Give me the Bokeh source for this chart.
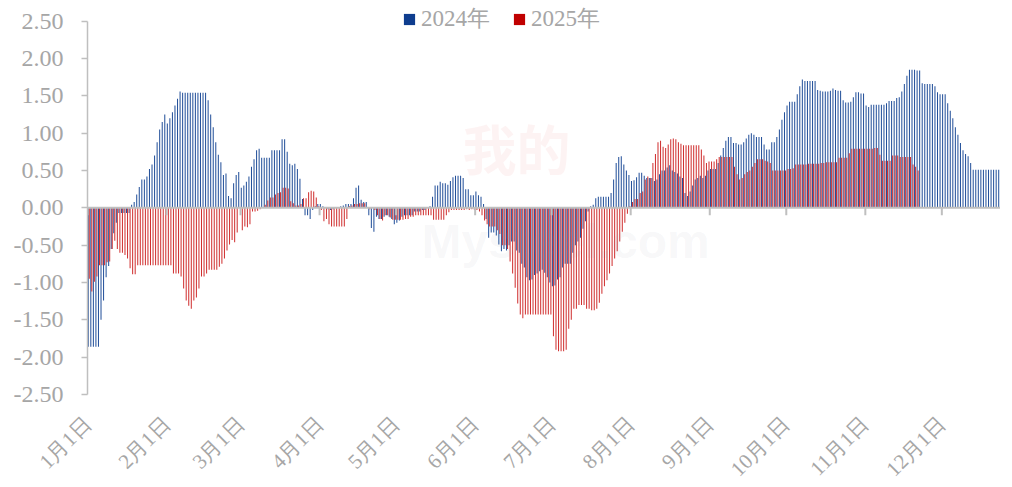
import numpy as np
from bokeh.plotting import figure
from bokeh.models import (Range1d, FixedTicker, NumeralTickFormatter, Span, Label,
                          Legend, LegendItem, ColumnDataSource)
from bokeh.embed import file_html
from bokeh.resources import INLINE

# ---------------- data ----------------
month_labels = ["1月1日", "2月1日", "3月1日", "4月1日", "5月1日", "6月1日",
                "7月1日", "8月1日", "9月1日", "10月1日", "11月1日", "12月1日"]
month_days = [31, 29, 31, 30, 31, 30, 31, 31, 30, 31, 30, 31]

# 2024 daily values, one list per month
b_jan = [-1.86, -1.86, -1.86, -1.86, -1.86, -1.50, -1.24, -0.93, -0.78, -0.55, -0.34, -0.20,
         -0.07, -0.07, -0.07, -0.07, -0.07, 0.04, 0.08, 0.18, 0.28, 0.38, 0.38, 0.42, 0.52,
         0.58, 0.70, 0.88, 1.05, 1.15, 1.25]
b_feb = [1.13, 1.20, 1.28, 1.37, 1.46, 1.56, 1.54, 1.54, 1.54, 1.54, 1.54, 1.54, 1.54, 1.54,
         1.54, 1.54, 1.44, 1.25, 1.08, 0.88, 0.71, 0.61, 0.44, 0.46, 0.16, 0.13, 0.33, 0.44, 0.48]
b_mar = [0.27, 0.30, 0.35, 0.42, 0.55, 0.65, 0.77, 0.79, 0.67, 0.67, 0.67, 0.67, 0.77, 0.77,
         0.77, 0.77, 0.92, 0.92, 0.75, 0.59, 0.57, 0.59, 0.52, 0.39, 0.12, -0.10, -0.10, -0.15,
         -0.03, 0.02, 0.05]
b_apr = [0.05, 0.02, 0.00, -0.02, -0.03, -0.02, 0.00, 0.01, 0.02, 0.03, 0.05, 0.05, 0.05,
         0.13, 0.27, 0.30, 0.11, 0.08, 0.08, -0.10, -0.27, -0.32, -0.12, -0.15, -0.15, -0.12,
         -0.10, -0.12, -0.15, -0.22]
b_may = [-0.20, -0.17, -0.12, -0.10, -0.10, -0.10, -0.10, -0.05, -0.05, -0.05, -0.03, -0.03,
         0.00, 0.02, 0.15, 0.30, 0.30, 0.35, 0.33, 0.33, 0.31, 0.36, 0.41, 0.43, 0.43, 0.43,
         0.40, 0.25, 0.25, 0.17, 0.17]
b_jun = [0.22, 0.17, 0.15, 0.05, -0.15, -0.40, -0.33, -0.33, -0.37, -0.49, -0.58, -0.55,
         -0.57, -0.50, -0.45, -0.45, -0.57, -0.60, -0.75, -0.80, -0.93, -0.97, -0.96, -0.90,
         -0.88, -0.85, -0.83, -0.87, -0.93, -1.00]
b_jul = [-1.05, -1.04, -0.96, -0.93, -0.80, -0.75, -0.75, -0.75, -0.60, -0.50, -0.45, -0.40,
         -0.28, -0.18, -0.05, 0.02, 0.04, 0.13, 0.15, 0.15, 0.15, 0.15, 0.15, 0.20, 0.38, 0.60,
         0.68, 0.69, 0.58, 0.50, 0.44]
b_aug = [0.36, 0.37, 0.41, 0.47, 0.47, 0.43, 0.40, 0.40, 0.40, 0.36, 0.38, 0.45, 0.50, 0.50,
         0.54, 0.57, 0.50, 0.48, 0.46, 0.42, 0.40, 0.20, 0.16, 0.22, 0.30, 0.38, 0.40, 0.43,
         0.40, 0.43, 0.50]
b_sep = [0.52, 0.52, 0.52, 0.60, 0.70, 0.80, 0.90, 0.95, 0.95, 0.87, 0.87, 0.85, 0.85, 0.88,
         0.93, 0.98, 1.00, 0.98, 0.95, 0.95, 0.95, 0.85, 0.78, 0.78, 0.88, 0.88, 0.95, 1.05,
         1.18, 1.28]
b_oct = [1.37, 1.42, 1.42, 1.42, 1.52, 1.63, 1.72, 1.70, 1.70, 1.70, 1.70, 1.70, 1.58, 1.57,
         1.56, 1.56, 1.56, 1.57, 1.60, 1.58, 1.57, 1.57, 1.44, 1.41, 1.41, 1.42, 1.48, 1.55,
         1.55, 1.53, 1.53]
b_nov = [1.37, 1.35, 1.38, 1.38, 1.38, 1.38, 1.38, 1.38, 1.40, 1.43, 1.43, 1.43, 1.47, 1.48,
         1.56, 1.66, 1.77, 1.85, 1.85, 1.85, 1.84, 1.84, 1.67, 1.66, 1.66, 1.66, 1.66, 1.63,
         1.55, 1.52]
b_dec = [1.52, 1.52, 1.40, 1.30, 1.20, 1.08, 0.98, 0.87, 0.77, 0.72, 0.69, 0.60, 0.51, 0.51,
         0.51, 0.51, 0.51, 0.51, 0.51, 0.51, 0.51, 0.51, 0.51, 0.34, 0.00, 0.02, 0.04]

# 2025 daily values, one list per month
r_jan = [-0.95, -1.12, -0.99, -0.92, -0.77, -0.77, -0.77, -0.73, -0.72, -0.55, -0.44, -0.55,
         -0.60, -0.60, -0.63, -0.68, -0.81, -0.89, -0.89, -0.77, -0.77, -0.77, -0.77, -0.77,
         -0.77, -0.77, -0.77, -0.77, -0.77, -0.77, -0.77]
r_feb = [-0.77, -0.77, -0.88, -0.88, -0.88, -0.92, -1.08, -1.24, -1.31, -1.35, -1.24, -1.20,
         -1.08, -0.92, -0.92, -0.88, -0.83, -0.83, -0.83, -0.83, -0.79, -0.75, -0.68, -0.57,
         -0.49, -0.43, -0.46, -0.33]
r_mar = [-0.30, -0.25, -0.26, -0.22, -0.05, -0.05, -0.04, -0.02, 0.01, 0.04, 0.10, 0.14, 0.14,
         0.18, 0.20, 0.21, 0.27, 0.27, 0.26, 0.09, 0.06, 0.03, 0.03, 0.05, 0.13, 0.13, 0.21,
         0.23, 0.22, 0.14, 0.02]
r_apr = [-0.03, -0.18, -0.15, -0.22, -0.25, -0.25, -0.25, -0.25, -0.25, -0.25, -0.15, 0.02,
         0.03, 0.05, 0.05, 0.06, 0.06, 0.06, 0.00, -0.02, 0.00, -0.03, -0.10, -0.15, -0.17,
         -0.10, -0.10, -0.13, -0.16, -0.16]
r_may = [-0.16, -0.16, -0.16, -0.15, -0.15, -0.12, -0.12, -0.10, -0.10, -0.10, -0.10, -0.10,
         -0.10, -0.10, -0.16, -0.16, -0.16, -0.16, -0.16, -0.10, -0.06, -0.03, -0.03, -0.03,
         -0.03, -0.03, -0.03, -0.02, -0.03, -0.02, -0.03]
r_jun = [-0.03, -0.05, -0.10, -0.17, -0.22, -0.25, -0.25, -0.25, -0.30, -0.35, -0.50, -0.50,
         -0.55, -0.72, -0.88, -1.07, -1.28, -1.43, -1.48, -1.43, -1.43, -1.43, -1.43, -1.43,
         -1.43, -1.43, -1.43, -1.43, -1.43, -1.43]
r_jul = [-1.72, -1.90, -1.92, -1.92, -1.92, -1.90, -1.62, -1.50, -1.35, -1.35, -1.30, -1.30,
         -1.30, -1.35, -1.35, -1.37, -1.37, -1.35, -1.27, -1.15, -1.05, -0.97, -0.88, -0.78,
         -0.68, -0.58, -0.45, -0.32, -0.20, -0.08, 0.02]
r_aug = [0.08, 0.12, 0.12, 0.20, 0.22, 0.38, 0.42, 0.40, 0.60, 0.72, 0.88, 0.90, 0.82, 0.80,
         0.85, 0.92, 0.93, 0.92, 0.88, 0.86, 0.84, 0.84, 0.84, 0.84, 0.84, 0.84, 0.84, 0.78,
         0.70, 0.60, 0.62]
r_sep = [0.62, 0.62, 0.65, 0.68, 0.68, 0.68, 0.68, 0.68, 0.68, 0.55, 0.45, 0.38, 0.40, 0.45,
         0.48, 0.50, 0.55, 0.60, 0.65, 0.65, 0.65, 0.63, 0.62, 0.60, 0.50, 0.50, 0.50, 0.50,
         0.50, 0.50]
r_oct = [0.52, 0.52, 0.53, 0.58, 0.58, 0.58, 0.58, 0.58, 0.59, 0.59, 0.59, 0.59, 0.59, 0.60,
         0.60, 0.61, 0.61, 0.61, 0.61, 0.61, 0.67, 0.67, 0.67, 0.67, 0.73, 0.79, 0.79, 0.79,
         0.79, 0.79, 0.79]
r_nov = [0.79, 0.79, 0.79, 0.80, 0.80, 0.71, 0.63, 0.63, 0.63, 0.63, 0.70, 0.70, 0.70, 0.68,
         0.68, 0.68, 0.68, 0.68, 0.58, 0.55, 0.50]

series_2024 = [b_jan, b_feb, b_mar, b_apr, b_may, b_jun, b_jul, b_aug, b_sep, b_oct, b_nov, b_dec]
series_2025 = [r_jan, r_feb, r_mar, r_apr, r_may, r_jun, r_jul, r_aug, r_sep, r_oct, r_nov]
series_names = ["2024年", "2025年"]
y_ticks = [-2.5, -2.0, -1.5, -1.0, -0.5, 0.0, 0.5, 1.0, 1.5, 2.0, 2.5]

# ---------------- helpers ----------------
starts = np.concatenate([[0], np.cumsum(month_days)[:-1]]).astype(int)


def expand(months):
    xs, ys = [], []
    for m, vals in enumerate(months):
        for i, v in enumerate(vals):
            xs.append(starts[m] + i + 0.5)
            ys.append(v)
    return np.array(xs), np.array(ys)


x24, y24 = expand(series_2024)
x25, y25 = expand(series_2025)

BLUE_KEY = "#0E3D8E"
RED_KEY = "#C00000"
BLUE_BAR = "#23509A"
RED_BAR = "#D03030"
GRAY_AX = "#BFBFBF"
GRAY_TXT = "#A6A6A6"
FONT = "Liberation Serif"

FRAME_H = 394
PX_PER_UNIT = 74.66
p = figure(frame_width=913, frame_height=FRAME_H, output_backend="svg", toolbar_location=None,
           x_range=Range1d(0, 358), y_range=Range1d(-2.5, -2.5 + FRAME_H / PX_PER_UNIT),
           min_border_left=87, min_border_right=0, min_border_top=0, min_border_bottom=70)
p.outline_line_color = None
p.background_fill_color = "white"
p.border_fill_color = "white"
p.xgrid.visible = False
p.ygrid.visible = False

# faint watermark
p.add_layout(Label(x=147, y=0.28, text="我的", text_font="Noto Sans CJK SC",
                   text_font_size="54px", text_color="#E05050", text_alpha=0.07,
                   text_font_style="bold"))
p.add_layout(Label(x=131, y=-0.80, text="Mysteel.com", text_font="Liberation Sans",
                   text_font_size="48px", text_color="#9090A0", text_alpha=0.08,
                   text_font_style="bold"))

bw = 0.4
p.vbar(x=x24 - bw / 2, top=y24, bottom=0, width=bw, fill_color=BLUE_BAR, line_color=None)
p.vbar(x=x25 + bw / 2, top=y25, bottom=0, width=bw, fill_color=RED_BAR, line_color=None)

# legend keys (renderers with no visible bar, carrying the key colours)
keysrc = ColumnDataSource(data=dict(x=np.array([np.nan]), top=np.array([np.nan])))
k24 = p.vbar(x="x", top="top", width=1, source=keysrc, fill_color=BLUE_KEY, line_color=None)
k25 = p.vbar(x="x", top="top", width=1, source=keysrc, fill_color=RED_KEY, line_color=None)

# zero line with month tick marks
p.add_layout(Span(location=0, dimension="width", line_color=GRAY_AX, line_width=2))
p.segment(x0=starts, y0=np.zeros(len(starts)), x1=starts, y1=np.full(len(starts), -0.1),
          line_color=GRAY_AX, line_width=2)

# y axis (line limited to the tick span)
yax = p.yaxis[0]
yax.bounds = (y_ticks[0], y_ticks[-1])
yax.ticker = FixedTicker(ticks=y_ticks)
yax.formatter = NumeralTickFormatter(format="0.00")
yax.axis_line_color = GRAY_AX
yax.axis_line_width = 1.5
yax.major_tick_line_color = GRAY_AX
yax.major_tick_line_width = 1.5
yax.major_tick_out = 6
yax.major_tick_in = 0
yax.minor_tick_line_color = None
yax.major_label_text_color = GRAY_TXT
yax.major_label_text_font = FONT
yax.major_label_text_font_size = "24px"
yax.major_label_standoff = 18

# x axis
xax = p.xaxis[0]
xax.ticker = FixedTicker(ticks=[int(s) for s in starts])
xax.major_label_overrides = {int(s): lab for s, lab in zip(starts, month_labels)}
xax.major_label_orientation = np.pi / 4
xax.axis_line_color = None
xax.major_tick_line_color = None
xax.minor_tick_line_color = None
xax.major_tick_out = 0
xax.major_label_text_color = GRAY_TXT
xax.major_label_text_font = FONT
xax.major_label_text_font_size = "21px"
xax.major_label_standoff = 26

# legend
lg = Legend(items=[LegendItem(label=series_names[0], renderers=[k24]),
                   LegendItem(label=series_names[1], renderers=[k25])],
            orientation="horizontal", location=(315, 360),
            background_fill_alpha=0, border_line_color=None, padding=0, margin=0,
            spacing=22, glyph_width=14, glyph_height=14, label_standoff=5,
            label_text_color=GRAY_TXT, label_text_font=FONT,
            label_text_font_size="23px", label_height=22)
p.add_layout(lg, "center")

open("out.html", "w").write(file_html(p, INLINE))
